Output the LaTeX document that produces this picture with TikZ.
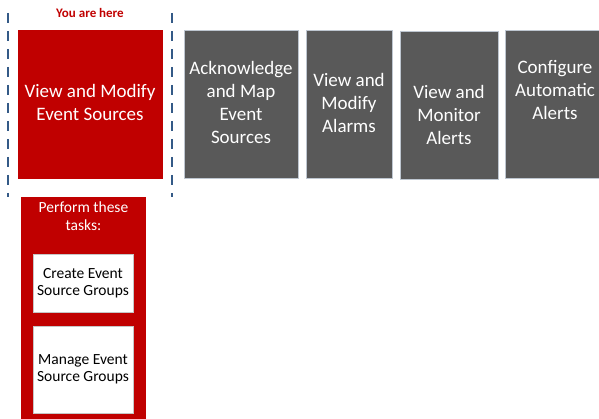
\documentclass[tikz,border=0pt]{standalone}
\usepackage{fontspec}
\setmainfont{Carlito}
\usetikzlibrary{positioning}
\definecolor{herered}{RGB}{192, 0, 0}
\definecolor{stepgray}{RGB}{89, 89, 89}
\definecolor{dashblue}{RGB}{52, 90, 135}
\definecolor{edgegray}{RGB}{190, 198, 208}

\begin{document}
\begin{tikzpicture}[x=1pt, y=-1pt,
    stagebox/.style={minimum height=148pt, inner sep=0pt, draw=edgegray, line width=0.6pt},
    boxtext/.style={font=\fontsize{19}{23}\selectfont, text=white, align=center},
    taskbox/.style={draw=gray!45, fill=white, minimum width=100pt, inner sep=0pt, line width=0.6pt, font=\fontsize{15.5}{17}\selectfont, align=center}]
  \useasboundingbox (0,0) rectangle (599,419);
  \clip (0,0) rectangle (599,419);

  % You are here marker
  \node[font=\fontsize{13}{14}\bfseries, text=herered] (here) at (90,13) {You are here};
  \coordinate (dl1) at (8,13);
  \coordinate (dl2) at (8,197);
  \coordinate (dr1) at (172,13);
  \coordinate (dr2) at (172,197);
  \draw[dashblue, line width=1.5pt, dash pattern=on 10pt off 8pt] (dl1) -- (dl2);
  \draw[dashblue, line width=1.5pt, dash pattern=on 10pt off 8pt] (dr1) -- (dr2);

  % Stages
  \node[stagebox, fill=herered, draw=herered, minimum width=144pt] (view) at (90,104) {};
  \node[boxtext] at ([yshift=2pt]view.center) {View and Modify\\Event Sources};
  \node[stagebox, fill=stepgray, minimum width=114pt] (ack) at (241,104) {};
  \node[boxtext] at ([yshift=2pt]ack.center) {Acknowledge\\and Map\\Event\\Sources};
  \node[stagebox, fill=stepgray, minimum width=86pt] (alarms) at (349,104) {};
  \node[boxtext] at ([yshift=1pt]alarms.center) {View and\\Modify\\Alarms};
  \node[stagebox, fill=stepgray, minimum width=98pt] (monitor) at (449,105) {};
  \node[boxtext] at ([yshift=-10pt]monitor.center) {View and\\Monitor\\Alerts};
  \node[stagebox, fill=stepgray, minimum width=100pt] (alerts) at (555,104) {};
  \node[boxtext] at ([yshift=14pt]alerts.center) {Configure\\Automatic\\Alerts};

  % Tasks
  \node[fill=herered, minimum width=125pt, minimum height=230pt, inner sep=0pt] (tasks) at (83.5,312) {};
  \node[font=\fontsize{15.5}{18}\selectfont, text=white, align=center, below=1pt of tasks.north] (perform) {Perform these\\tasks:};
  \node[taskbox, minimum height=58pt] (create) at (83,283) {Create Event\\Source Groups};
  \node[taskbox, minimum height=87pt] (manage) at (83,369.5) {Manage Event\\Source Groups};
\end{tikzpicture}
\end{document}
